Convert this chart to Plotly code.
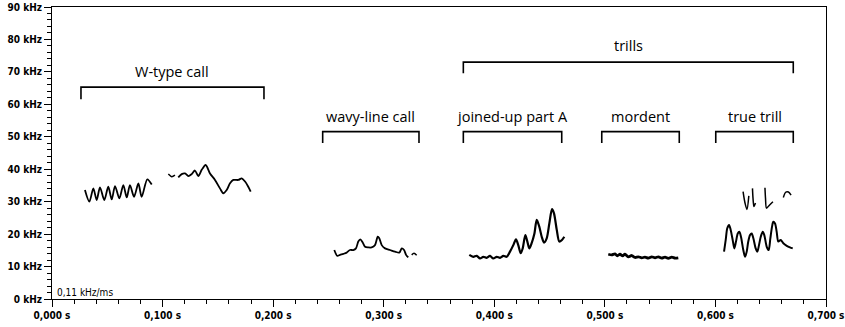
import plotly.graph_objects as go

# ---------------- data (time in s, frequency in kHz) ----------------
w1_t = [0.0298, 0.0338, 0.0374, 0.0404, 0.0434, 0.0473, 0.0509, 0.0540, 0.0570, 0.0609,
        0.0645, 0.0676, 0.0705, 0.0742, 0.0781, 0.0811, 0.0862, 0.0902]
w1_f = [33.6, 30.0, 34.1, 30.5, 34.4, 30.5, 34.6, 30.7, 34.8, 31.0,
        35.1, 31.3, 35.1, 31.5, 35.6, 31.5, 36.9, 35.3]

w2a_t = [0.1052, 0.1083, 0.1112]
w2a_f = [38.5, 37.7, 38.2]
w2b_t = [0.1142, 0.1173, 0.1203, 0.1233, 0.1263, 0.1293, 0.1323, 0.1354, 0.1390, 0.1429,
         0.1474, 0.1519, 0.1549, 0.1580, 0.1610, 0.1640, 0.1685, 0.1716, 0.1746, 0.1775, 0.1797]
w2b_f = [37.5, 38.5, 38.7, 37.9, 38.5, 39.6, 37.9, 39.8, 41.3, 38.7,
         36.7, 34.1, 32.6, 33.6, 35.7, 36.7, 36.7, 37.2, 36.2, 34.6, 33.1]

wavy_t = [0.2553, 0.2580, 0.2605, 0.2635, 0.2665, 0.2695, 0.2725, 0.2749, 0.2770, 0.2788,
          0.2810, 0.2831, 0.2861, 0.2891, 0.2921, 0.2946, 0.2960, 0.2982, 0.3012, 0.3057,
          0.3102, 0.3141, 0.3163, 0.3184, 0.3202, 0.3222]
wavy_f = [15.1, 13.3, 13.6, 13.9, 14.3, 15.1, 15.1, 15.6, 17.7, 18.4,
          17.4, 16.1, 15.9, 15.9, 16.6, 19.2, 18.7, 16.6, 15.6, 15.1,
          14.6, 14.3, 15.6, 15.1, 13.6, 12.8]
wavy2_t = [0.3253, 0.3274, 0.3298]
wavy2_f = [13.6, 14.1, 13.5]

joined_t = [0.3774, 0.3810, 0.3841, 0.3871, 0.3901, 0.3931, 0.3961, 0.3991, 0.4022, 0.4052,
            0.4082, 0.4112, 0.4142, 0.4172, 0.4196, 0.4217, 0.4239, 0.4257, 0.4281, 0.4299,
            0.4317, 0.4338, 0.4362, 0.4384, 0.4407, 0.4429, 0.4450, 0.4474, 0.4498, 0.4522,
            0.4540, 0.4565, 0.4588, 0.4612, 0.4633]
joined_f = [13.6, 13.0, 13.3, 12.5, 13.0, 12.7, 13.3, 12.5, 13.0, 12.7,
            13.3, 13.0, 14.6, 16.6, 18.4, 16.6, 14.1, 15.6, 19.7, 17.7,
            15.6, 17.2, 20.0, 24.4, 22.3, 19.2, 17.4, 18.7, 23.3, 27.7,
            26.4, 21.3, 17.7, 18.2, 19.2]

mordent_t = [0.5031, 0.5062, 0.5092, 0.5113, 0.5137, 0.5161, 0.5182, 0.5212, 0.5243, 0.5273,
             0.5303, 0.5333, 0.5363, 0.5393, 0.5424, 0.5454, 0.5484, 0.5514, 0.5544, 0.5574,
             0.5605, 0.5635, 0.5664]
mordent_f = [13.8, 13.6, 13.9, 13.3, 13.8, 13.3, 13.8, 13.0, 13.4, 12.8,
             13.0, 12.7, 12.9, 12.6, 13.0, 12.7, 13.0, 12.6, 12.9, 12.5,
             12.9, 12.6, 12.7]

trill_lo_t = [0.6078, 0.6093, 0.6107, 0.6123, 0.6138, 0.6156, 0.6171, 0.6186, 0.6202, 0.6216,
              0.6231, 0.6252, 0.6268, 0.6283, 0.6297, 0.6313, 0.6328, 0.6343, 0.6364, 0.6379,
              0.6394, 0.6410, 0.6428, 0.6442, 0.6464, 0.6482, 0.6496, 0.6512, 0.6523, 0.6539,
              0.6554, 0.6569, 0.6590, 0.6614, 0.6645, 0.6674, 0.6699]
trill_lo_f = [14.6, 18.2, 21.8, 22.8, 21.3, 18.2, 15.6, 17.7, 20.2, 20.7,
              19.2, 15.1, 13.0, 14.6, 17.7, 19.7, 20.2, 18.7, 15.6, 14.6,
              16.6, 19.2, 20.7, 19.7, 16.1, 15.1, 18.5, 22.3, 23.8, 23.3,
              20.7, 17.7, 18.2, 17.2, 16.4, 15.9, 15.6]

trill_up_t = [0.6250, 0.6268, 0.6285, 0.6302, None, 0.6335, 0.6340, 0.6348, 0.6362, None,
              0.6448, 0.6453, 0.6462, 0.6490, 0.6520, None, 0.6614, 0.6635, 0.6660, 0.6684]
trill_up_f = [33.1, 29.5, 27.6, 31.8, None, 34.1, 31.0, 28.5, 29.6, None,
              34.3, 31.0, 28.0, 29.0, 30.0, None, 31.3, 32.9, 33.0, 32.0]

# brackets: label, start, end, top, leg bottom, label height
br_labels = ["W-type call", "wavy-line call", "joined-up part A", "trills", "mordent", "true trill"]
br_start = [0.0262, 0.2448, 0.3720, 0.3720, 0.4972, 0.6003]
br_end = [0.1917, 0.3319, 0.4610, 0.6704, 0.5673, 0.6704]
br_top = [65.3, 51.6, 51.6, 73.0, 51.6, 51.6]
br_bottom = [61.6, 48.1, 48.1, 69.6, 48.1, 48.1]
br_text_y = [70.1, 56.3, 56.3, 78.0, 56.4, 56.4]

x_tickvals = [0.0, 0.1, 0.2, 0.3, 0.4, 0.5, 0.6, 0.7]
x_ticktext = ["0,000 s", "0,100 s", "0,200 s", "0,300 s", "0,400 s", "0,500 s", "0,600 s", "0,700 s"]
y_tickvals = [0, 10, 20, 30, 40, 50, 60, 70, 80, 90]
y_ticktext = ["0 kHz", "10 kHz", "20 kHz", "30 kHz", "40 kHz", "50 kHz", "60 kHz", "70 kHz", "80 kHz", "90 kHz"]

scale_note = "0,11 kHz/ms"

# ---------------- figure ----------------
fig = go.Figure()

def add_line(t, f, width, smooth=True):
    fig.add_trace(go.Scatter(
        x=t, y=f, mode="lines",
        line=dict(color="black", width=width, shape="spline" if smooth else "linear", smoothing=0.8),
        connectgaps=False, hoverinfo="skip", showlegend=False))

add_line(w1_t, w1_f, 1.8)
add_line(w2a_t, w2a_f, 1.5)
add_line(w2b_t, w2b_f, 1.8)
add_line(wavy_t, wavy_f, 1.8)
add_line(wavy2_t, wavy2_f, 1.5)
add_line(joined_t, joined_f, 2.2)
add_line(mordent_t, mordent_f, 2.8)
add_line(trill_lo_t, trill_lo_f, 2.0)
add_line(trill_up_t, trill_up_f, 1.5)

# bracket paths
bx, by = [], []
for s, e, top, bot in zip(br_start, br_end, br_top, br_bottom):
    bx += [s, s, e, e, None]
    by += [bot, top, top, bot, None]
fig.add_trace(go.Scatter(x=bx, y=by, mode="lines",
                         line=dict(color="black", width=1.6),
                         hoverinfo="skip", showlegend=False))

for lab, s, e, ty in zip(br_labels, br_start, br_end, br_text_y):
    fig.add_annotation(x=(s + e) / 2, y=ty, text=lab, showarrow=False,
                       xanchor="center", yanchor="middle",
                       font=dict(family="Open Sans", size=14.5, color="black"))

fig.add_annotation(xref="paper", x=0, xshift=3, y=2.0, text=scale_note, showarrow=False,
                   xanchor="left", yanchor="middle",
                   font=dict(family="Liberation Sans Narrow, DejaVu Sans Condensed, sans-serif",
                             size=10, color="black"))

tickfont = dict(family="Liberation Sans Narrow, DejaVu Sans Condensed, sans-serif",
                size=10, color="black", weight="bold")

fig.update_xaxes(range=[0, 0.7], tickmode="array", tickvals=x_tickvals, ticktext=x_ticktext,
                 ticks="outside", ticklen=7, tickwidth=1, tickcolor="black",
                 minor=dict(dtick=0.02, tick0=0, ticks="outside", ticklen=4, tickcolor="black"),
                 showline=True, linecolor="black", linewidth=1, mirror=True, automargin=False,
                 showgrid=False, zeroline=False, tickfont=tickfont)
fig.update_yaxes(range=[0, 90], tickmode="array", tickvals=y_tickvals, ticktext=y_ticktext,
                 ticks="outside", ticklen=7, tickwidth=1, tickcolor="black",
                 minor=dict(dtick=2, tick0=0, ticks="outside", ticklen=4, tickcolor="black"),
                 showline=True, linecolor="black", linewidth=1, mirror=True, automargin=False,
                 showgrid=False, zeroline=False, tickfont=tickfont)

fig.update_layout(width=845, height=327, margin=dict(l=52, r=19, t=7, b=28),
                  plot_bgcolor="white", paper_bgcolor="white")

fig.write_html("out.html")
